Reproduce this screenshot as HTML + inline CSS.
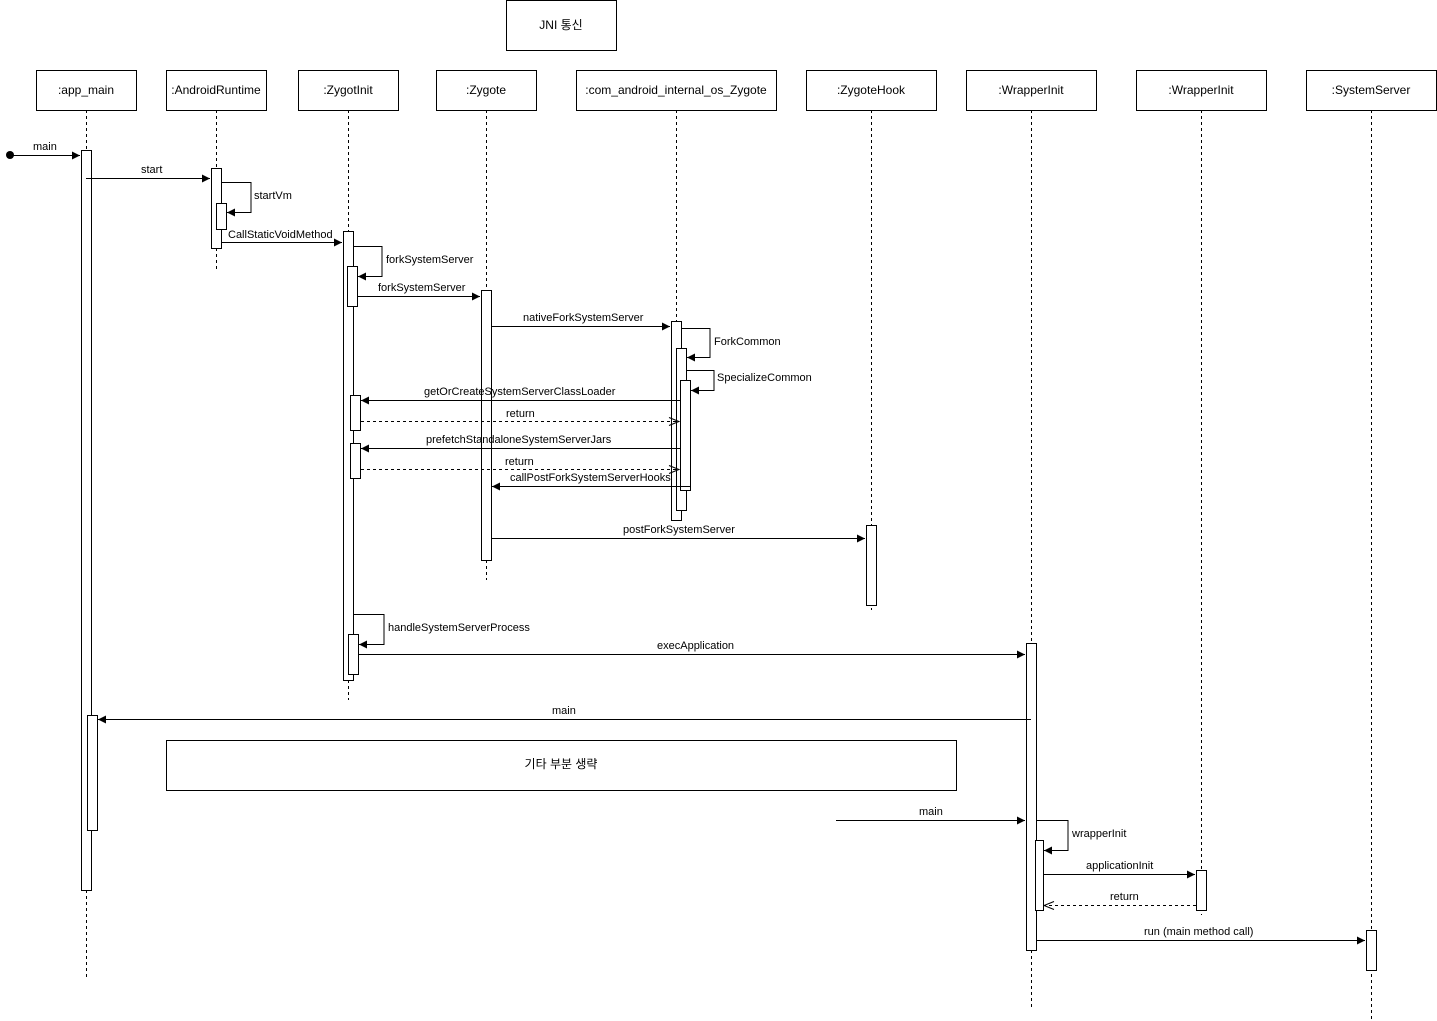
<!DOCTYPE html><html><head><meta charset="utf-8"><style>body{margin:0;background:#fff}svg{display:block}text{font-family:"Liberation Sans","Noto Sans CJK KR",sans-serif;font-size:11px;fill:#000}</style></head><body>
<svg width="1437" height="1021" viewBox="0 0 1437 1021" xmlns="http://www.w3.org/2000/svg">
<defs><marker id="a" markerWidth="10" markerHeight="10" refX="9" refY="5" orient="auto" markerUnits="userSpaceOnUse"><path d="M1,1 L9,5 L1,9 Z" fill="#000"/></marker>
<marker id="o" markerWidth="12" markerHeight="10" refX="11" refY="5" orient="auto" markerUnits="userSpaceOnUse"><path d="M1,1 L11,5 L1,9" fill="none" stroke="#000"/></marker></defs>
<g fill="#fff" stroke="#000">
<rect x="506.5" y="0.5" width="110" height="50"/>
<rect x="36.5" y="70.5" width="100" height="40"/><rect x="166.5" y="70.5" width="100" height="40"/><rect x="298.5" y="70.5" width="100" height="40"/><rect x="436.5" y="70.5" width="100" height="40"/><rect x="576.5" y="70.5" width="200" height="40"/><rect x="806.5" y="70.5" width="130" height="40"/><rect x="966.5" y="70.5" width="130" height="40"/><rect x="1136.5" y="70.5" width="130" height="40"/><rect x="1306.5" y="70.5" width="130" height="40"/>
</g>
<g text-anchor="middle" font-size="12"><text x="561" y="29" style="font-size:12px">JNI 통신</text>
<text x="86" y="94" style="font-size:12px">:app_main</text><text x="216" y="94" style="font-size:12px">:AndroidRuntime</text><text x="348" y="94" style="font-size:12px">:ZygotInit</text><text x="486" y="94" style="font-size:12px">:Zygote</text><text x="676" y="94" style="font-size:12px">:com_android_internal_os_Zygote</text><text x="871" y="94" style="font-size:12px">:ZygoteHook</text><text x="1031" y="94" style="font-size:12px">:WrapperInit</text><text x="1201" y="94" style="font-size:12px">:WrapperInit</text><text x="1371" y="94" style="font-size:12px">:SystemServer</text></g>
<g stroke="#000" stroke-dasharray="3,3">
<line x1="86.5" y1="110" x2="86.5" y2="977"/><line x1="216.5" y1="110" x2="216.5" y2="270"/><line x1="348.5" y1="110" x2="348.5" y2="700"/><line x1="486.5" y1="110" x2="486.5" y2="580"/><line x1="676.5" y1="110" x2="676.5" y2="520"/><line x1="871.5" y1="110" x2="871.5" y2="610"/><line x1="1031.5" y1="110" x2="1031.5" y2="1007"/><line x1="1201.5" y1="110" x2="1201.5" y2="915"/><line x1="1371.5" y1="110" x2="1371.5" y2="1020"/>
</g>
<g fill="#fff" stroke="#000">
<rect x="81.5" y="150.5" width="10" height="740"/><rect x="87.5" y="715.5" width="10" height="115"/>
<rect x="211.5" y="168.5" width="10" height="80"/><rect x="216.5" y="203.5" width="10" height="26"/>
<rect x="343.5" y="231.5" width="10" height="449"/><rect x="347.5" y="266.5" width="10" height="40"/><rect x="350.5" y="395.5" width="10" height="35"/><rect x="350.5" y="443.5" width="10" height="35"/><rect x="348.5" y="634.5" width="10" height="40"/>
<rect x="481.5" y="290.5" width="10" height="270"/>
<rect x="671.5" y="321.5" width="10" height="199"/><rect x="676.5" y="348.5" width="10" height="162"/><rect x="680.5" y="380.5" width="10" height="110"/>
<rect x="866.5" y="525.5" width="10" height="80"/>
<rect x="1026.5" y="643.5" width="10" height="307"/><rect x="1035.5" y="840.5" width="8" height="70"/>
<rect x="1196.5" y="870.5" width="10" height="40"/><rect x="1366.5" y="930.5" width="10" height="40"/>
<rect x="166.5" y="740.5" width="790" height="50"/>
</g>
<text x="561" y="768" text-anchor="middle" style="font-size:12px">기타 부분 생략</text>
<circle cx="10" cy="155" r="4" fill="#000"/>
<g stroke="#000" fill="none">
<line x1="10" y1="155.5" x2="80" y2="155.5" marker-end="url(#a)"/>
<line x1="86" y1="178.5" x2="210" y2="178.5" marker-end="url(#a)"/>
<path d="M221,182.5 H251 V212.5 H227" marker-end="url(#a)"/>
<line x1="221" y1="242.5" x2="342" y2="242.5" marker-end="url(#a)"/>
<path d="M353,246.5 H382 V276.5 H358" marker-end="url(#a)"/>
<line x1="357" y1="296.5" x2="480" y2="296.5" marker-end="url(#a)"/>
<line x1="491" y1="326.5" x2="670" y2="326.5" marker-end="url(#a)"/>
<path d="M681,328.5 H710 V357.5 H687" marker-end="url(#a)"/>
<path d="M686,370.5 H714 V390.5 H691" marker-end="url(#a)"/>
<line x1="680" y1="400.5" x2="361" y2="400.5" marker-end="url(#a)"/>
<line x1="361" y1="421.5" x2="679" y2="421.5" stroke-dasharray="3,3" marker-end="url(#o)"/>
<line x1="680" y1="448.5" x2="361" y2="448.5" marker-end="url(#a)"/>
<line x1="361" y1="469.5" x2="679" y2="469.5" stroke-dasharray="3,3" marker-end="url(#o)"/>
<line x1="690" y1="486.5" x2="492" y2="486.5" marker-end="url(#a)"/>
<line x1="491" y1="538.5" x2="865" y2="538.5" marker-end="url(#a)"/>
<path d="M353,614.5 H384 V644.5 H359" marker-end="url(#a)"/>
<line x1="359" y1="654.5" x2="1025" y2="654.5" marker-end="url(#a)"/>
<line x1="1031" y1="719.5" x2="98" y2="719.5" marker-end="url(#a)"/>
<line x1="836" y1="820.5" x2="1025" y2="820.5" marker-end="url(#a)"/>
<path d="M1037,820.5 H1068 V850.5 H1044" marker-end="url(#a)"/>
<line x1="1044" y1="874.5" x2="1195" y2="874.5" marker-end="url(#a)"/>
<line x1="1196" y1="905.5" x2="1044" y2="905.5" stroke-dasharray="3,3" marker-end="url(#o)"/>
<line x1="1036" y1="940.5" x2="1365" y2="940.5" marker-end="url(#a)"/>
</g>
<g>
<text x="33" y="150">main</text><text x="141" y="173">start</text><text x="254" y="199">startVm</text><text x="228" y="238">CallStaticVoidMethod</text><text x="386" y="263">forkSystemServer</text><text x="378" y="291">forkSystemServer</text><text x="523" y="321">nativeForkSystemServer</text><text x="714" y="345">ForkCommon</text><text x="717" y="381">SpecializeCommon</text><text x="424" y="395">getOrCreateSystemServerClassLoader</text><text x="506" y="417">return</text><text x="426" y="443">prefetchStandaloneSystemServerJars</text><text x="505" y="465">return</text><text x="510" y="481">callPostForkSystemServerHooks</text><text x="623" y="533">postForkSystemServer</text><text x="388" y="631">handleSystemServerProcess</text><text x="657" y="649">execApplication</text><text x="552" y="714">main</text><text x="919" y="815">main</text><text x="1072" y="837">wrapperInit</text><text x="1086" y="869">applicationInit</text><text x="1110" y="900">return</text><text x="1144" y="935">run (main method call)</text>
</g>
</svg></body></html>
